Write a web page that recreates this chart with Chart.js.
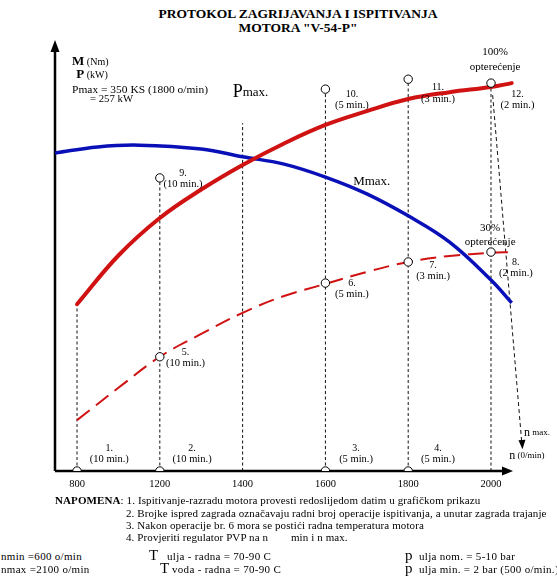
<!DOCTYPE html>
<html>
<head>
<meta charset="utf-8">
<script src="https://cdn.jsdelivr.net/npm/chart.js@4.4.1/dist/chart.umd.min.js"></script>
<style>
  html, body { margin: 0; padding: 0; background: #fff; }
  #wrap { position: relative; width: 557px; height: 580px; font-family: "Liberation Serif", serif; color: #000; overflow: hidden; }
  #box { position: absolute; left: 0; top: 0; width: 557px; height: 495px; }
  .ln { position: absolute; white-space: nowrap; font-size: 11px; line-height: 12px; letter-spacing: 0.1px; }
  .rw { position: absolute; white-space: nowrap; font-size: 11px; line-height: 13px; letter-spacing: 0.3px; }
  .bg { position: absolute; white-space: nowrap; font-size: 15px; line-height: 13px; }
  .ttl { position: absolute; left: 0; width: 596px; text-align: center; font-weight: bold; font-size: 13.5px; line-height: 14px; }
</style>
</head>
<body>
<div id="wrap">
  <div class="ttl" style="top:7px">PROTOKOL ZAGRIJAVANJA I ISPITIVANJA</div>
  <div class="ttl" style="top:21px">MOTORA "V-54-P"</div>
  <div id="box"><canvas id="c" width="557" height="495"></canvas></div>

  <div class="ln" style="left:55px;top:494px"><b>NAPOMENA</b>: 1. Ispitivanje-razradu motora provesti redoslijedom datim u grafičkom prikazu</div>
  <div class="ln" style="left:126px;top:507px">2. Brojke ispred zagrada označavaju radni broj operacije ispitivanja, a unutar zagrada trajanje</div>
  <div class="ln" style="left:126px;top:519px">3. Nakon operacije br. 6 mora se postići radna temperatura motora</div>
  <div class="ln" style="left:126px;top:531px">4. Provjeriti regulator PVP na n&nbsp;&nbsp;&nbsp;&nbsp;&nbsp;&nbsp;&nbsp;&nbsp;min i n max.</div>

  <div class="rw" style="left:1px;top:550px">nmin =600 o/min</div>
  <div class="bg" style="left:149px;top:549px">T</div>
  <div class="rw" style="left:167px;top:550px">ulja - radna = 70-90 C</div>
  <div class="bg" style="left:405px;top:549px">p</div>
  <div class="rw" style="left:419px;top:550px">ulja nom. = 5-10 bar</div>
  <div class="rw" style="left:1px;top:563px">nmax =2100 o/min</div>
  <div class="bg" style="left:160px;top:562px">T</div>
  <div class="rw" style="left:172px;top:563px">voda - radna = 70-90 C</div>
  <div class="bg" style="left:405px;top:562px">p</div>
  <div class="rw" style="left:419px;top:563px">ulja min. = 2 bar (500 o/min.)</div>
</div>

<script>
// brzine na osi x (o/min) - ose su jednako razmaknute, pa x ide po indeksu
const RPM_TICKS = ['800', '1200', '1400', '1600', '1800', '2000'];
const X_MIN = -0.266;
const X_MAX = 5.302;

// P pri 100% opterecenja (puna crvena), relativno 0-100 po visini ose
const P_FULL_X = [0, 0.5, 1, 1.5, 2, 2.5, 3, 3.5, 4, 4.5, 5, 5.25];
const P_FULL_Y = [38.7, 50.0, 58.7, 65.3, 71.0, 76.0, 80.3, 83.5, 86.3, 87.9, 89.1, 90.0];

// P pri 30% opterecenja (isprekidana crvena)
const P_PART_X = [0, 0.5, 1, 1.5, 2, 2.5, 3, 3.5, 4, 4.5, 5, 5.25];
const P_PART_Y = [11.8, 19.3, 26.5, 31.8, 36.7, 40.6, 43.4, 46.2, 48.5, 49.9, 50.6, 50.8];

// Mmax (plava)
const M_MAX_X = [-0.266, 0.25, 0.75, 1.5, 2, 2.5, 3, 3.5, 4, 4.5, 5, 5.25];
const M_MAX_Y = [73.8, 75.2, 75.6, 74.7, 72.9, 71.2, 68.2, 64.3, 59.2, 53.1, 44.3, 39.0];

// tacke operacija (kruzici)
const PIN_X = [0, 1, 3, 4, 1, 3, 4, 5, 1, 3, 4, 5];
const PIN_Y = [0, 0, 0, 0, 26.5, 43.6, 48.5, 50.8, 68.0, 88.6, 90.9, 90.0];

// vrh isprekidanih vertikala za svaku brzinu
const GUIDE_TOP = [38.7, 68.0, 80.7, 88.6, 90.9, 90.0];

// isprekidana kosa linija prema n max.
const DROP_X = [5.02, 5.374];
const DROP_Y = [87.2, 6.0];

// oznake operacija: broj, trajanje
const OP_LABELS = [
  ['1.', '(10 min.)', 0.39, 5.3],
  ['2.', '(10 min.)', 1.39, 5.3],
  ['3.', '(5 min.)', 3.37, 5.3],
  ['4.', '(5 min.)', 4.36, 5.3],
  ['5.', '(10 min.)', 1.31, 27.6],
  ['6.', '(5 min.)', 3.32, 43.6],
  ['7.', '(3 min.)', 4.30, 47.8],
  ['8.', '(2 min.)', 5.30, 48.5],
  ['9.', '(10 min.)', 1.28, 69.1],
  ['10.', '(5 min.)', 3.32, 87.5],
  ['11.', '(3 min.)', 4.36, 88.9],
  ['12.', '(2 min.)', 5.32, 87.5],
];

// ostali tekstovi u grafiku: x, y, dijelovi [tekst, velicina, bold], poravnanje, sirina
const TEXTS = [
  [5.05, 97.2, [['100%', 11]], 'center'],
  [5.05, 93.7, [['opterećenje', 11]], 'center'],
  [4.99, 56.4, [['30%', 11]], 'center'],
  [4.99, 53.1, [['opterećenje', 11]], 'center'],
  [3.56, 67.1, [['Mmax.', 13]], 'center'],
  [1.88, 87.9, [['P', 18], ['max.', 13]], 'left'],
  [-0.06, 94.9, [['M', 13, true], [' (Nm)', 10]], 'left'],
  [-0.01, 91.9, [['P', 13, true], [' (kW)', 10]], 'left'],
  [-0.06, 88.4, [['Pmax = 350 KS (1800 o/min)', 10]], 'left', 136],
  [0.157, 86.3, [['= 257 kW', 10]], 'left', 43],
  [5.40, 8.8, [['n', 12], [' max.', 9]], 'left'],
  [5.22, 3.5, [['n', 12], [' (0/min)', 9]], 'left'],
];

const FONT = '"Liberation Serif", serif';
const RED = '#d01212';
const BLUE = '#0a10b8';

const pts = (xs, ys) => xs.map((x, i) => ({ x, y: ys[i] }));

const guideSets = GUIDE_TOP.map((top, i) => ({
  data: [{ x: i, y: 0 }, { x: i, y: top }],
  showLine: true,
  borderColor: '#111',
  borderWidth: 1,
  borderDash: [3, 2.5],
  pointRadius: 0,
  order: 3,
}));

// osi sa strelicama
const axesPlugin = {
  id: 'axes',
  beforeDatasetsDraw(chart) {
    const { ctx, chartArea: a } = chart;
    ctx.save();
    ctx.strokeStyle = '#000';
    ctx.fillStyle = '#000';
    ctx.lineWidth = 2.5;
    ctx.beginPath();
    ctx.moveTo(a.left, a.bottom);
    ctx.lineTo(a.left, a.top + 8);
    ctx.moveTo(a.left, a.bottom);
    ctx.lineTo(a.right - 10, a.bottom);
    ctx.stroke();
    ctx.beginPath();
    ctx.moveTo(a.left, a.top);
    ctx.lineTo(a.left - 4.5, a.top + 12);
    ctx.lineTo(a.left + 4.5, a.top + 12);
    ctx.closePath();
    ctx.fill();
    ctx.beginPath();
    ctx.moveTo(a.right - 3, a.bottom);
    ctx.lineTo(a.right - 14, a.bottom - 4.5);
    ctx.lineTo(a.right - 14, a.bottom + 4.5);
    ctx.closePath();
    ctx.fill();
    ctx.restore();
  },
};

function drawRuns(ctx, x, y, runs, align, fitW) {
  const w = runs.map(r => {
    ctx.font = (r[2] ? 'bold ' : '') + r[1] + 'px ' + FONT;
    return ctx.measureText(r[0]).width;
  });
  const total = w.reduce((s, v) => s + v, 0);
  const k = fitW ? fitW / total : 1;
  ctx.save();
  ctx.translate(align === 'center' ? x - total * k / 2 : x, y);
  ctx.scale(k, 1);
  let cx = 0;
  runs.forEach((r, i) => {
    ctx.font = (r[2] ? 'bold ' : '') + r[1] + 'px ' + FONT;
    ctx.fillText(r[0], cx, 0);
    cx += w[i];
  });
  ctx.restore();
}

const labelPlugin = {
  id: 'labels',
  afterDraw(chart) {
    const { ctx, scales } = chart;
    const X = v => scales.x.getPixelForValue(v);
    const Y = v => scales.y.getPixelForValue(v);
    ctx.save();
    ctx.fillStyle = '#000';
    ctx.textBaseline = 'middle';

    // strelica na kraju kose linije
    const ex = X(DROP_X[1]), ey = Y(DROP_Y[1]);
    ctx.beginPath();
    ctx.moveTo(ex + 0.5, ey + 4);
    ctx.lineTo(ex - 3.5, ey - 5);
    ctx.lineTo(ex + 3.5, ey - 5.5);
    ctx.closePath();
    ctx.fill();

    OP_LABELS.forEach(([n, t, x, y]) => {
      drawRuns(ctx, X(x), Y(y), [[n, 10]], 'center');
      drawRuns(ctx, X(x), Y(y) + 11.5, [[t, 10.5]], 'center');
    });
    TEXTS.forEach(([x, y, runs, align, fitW]) => drawRuns(ctx, X(x), Y(y), runs, align, fitW));
    ctx.restore();
  },
};

new Chart(document.getElementById('c'), {
  type: 'scatter',
  plugins: [axesPlugin, labelPlugin],
  data: {
    datasets: [
      {
        label: 'tacke',
        data: pts(PIN_X, PIN_Y),
        pointStyle: 'circle',
        pointRadius: 4.2,
        pointBackgroundColor: '#fff',
        pointBorderColor: '#000',
        pointBorderWidth: 1,
        order: 0,
      },
      {
        label: 'P 100%',
        data: pts(P_FULL_X, P_FULL_Y),
        showLine: true,
        borderColor: RED,
        borderWidth: 4,
        borderCapStyle: 'round',
        tension: 0.4,
        pointRadius: 0,
        order: 1,
      },
      {
        label: 'P 30%',
        data: pts(P_PART_X, P_PART_Y),
        showLine: true,
        borderColor: RED,
        borderWidth: 2,
        borderDash: [16, 8],
        tension: 0.4,
        pointRadius: 0,
        order: 1,
      },
      {
        label: 'Mmax',
        data: pts(M_MAX_X, M_MAX_Y),
        showLine: true,
        borderColor: BLUE,
        borderWidth: 3.5,
        tension: 0.4,
        pointRadius: 0,
        order: 1,
      },
      {
        label: 'n max',
        data: pts(DROP_X, DROP_Y),
        showLine: true,
        clip: false,
        borderColor: '#111',
        borderWidth: 1,
        borderDash: [4, 3],
        pointRadius: 0,
        order: 2,
      },
      ...guideSets,
    ],
  },
  options: {
    responsive: false,
    animation: false,
    devicePixelRatio: 1,
    layout: { padding: { left: 55, right: 41, top: 40, bottom: 0 } },
    plugins: {
      legend: { display: false },
      tooltip: { enabled: false },
      title: { display: false },
    },
    scales: {
      x: {
        type: 'linear',
        min: X_MIN,
        max: X_MAX,
        grid: { display: false, drawTicks: false },
        border: { display: false },
        afterBuildTicks: s => { s.ticks = RPM_TICKS.map((_, i) => ({ value: i })); },
        afterFit: s => { s.height = 24; },
        ticks: {
          callback: (v, i) => RPM_TICKS[i],
          font: { family: FONT, size: 10.5 },
          color: '#000',
          padding: 7,
          maxRotation: 0,
          autoSkip: false,
        },
      },
      y: { min: 0, max: 100, display: false },
    },
  },
});
</script>
</body>
</html>
